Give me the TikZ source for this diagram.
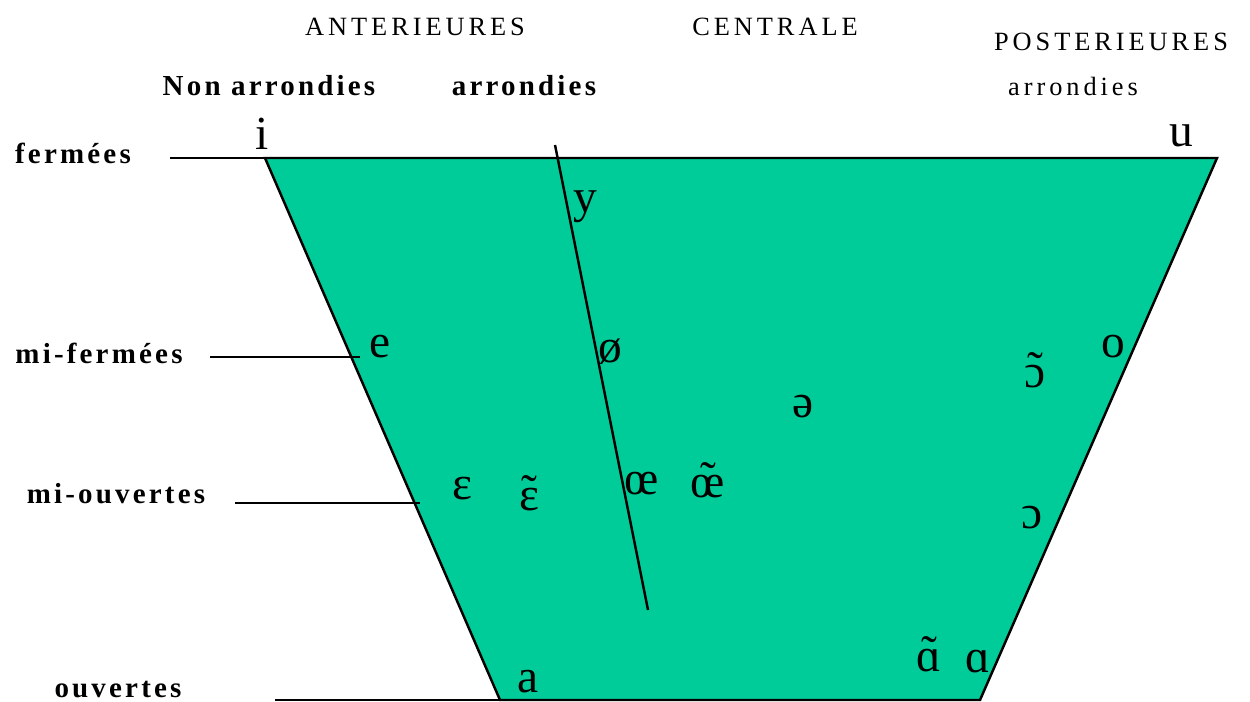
\documentclass[tikz,border=0pt]{standalone}
\usepackage{fontspec}
\setmainfont{Liberation Serif}
\definecolor{vowelfill}{HTML}{00CC99}
% nasal vowel: spacing tilde set over the letter
\newcommand{\nas}[1]{\ooalign{#1\cr\hidewidth\raisebox{0.06em}{\char"02DC}\hidewidth\cr}}

\begin{document}
\begin{tikzpicture}[
    x=0.02cm, y=-0.02cm,
    vowel/.style={font=\fontsize{27}{27}\selectfont, inner sep=0pt},
    head/.style={font=\fontsize{15}{15}\selectfont\addfontfeature{LetterSpace=15}, inner sep=0pt},
    rowlab/.style={font=\bfseries\fontsize{16.5}{16.5}\selectfont\addfontfeature{LetterSpace=11}, inner sep=0pt},
    edge/.style={line width=1.4pt}
]
\useasboundingbox (0,0) rectangle (1250,702);

% corners of the chart
\coordinate (tl) at (265,158);
\coordinate (tr) at (1217,158);
\coordinate (br) at (980,700);
\coordinate (bl) at (500,700);
\filldraw[fill=vowelfill, edge] (tl) -- (tr) -- (br) -- (bl) -- cycle;

% rounding line
\coordinate (rtop) at (555,145);
\coordinate (rbot) at (648,610);
\draw[edge] (rtop) -- (rbot);

% column headings
\node[head] (ant) at (415,27) {ANTERIEURES};
\node[head] (cen) at (775,27) {CENTRALE};
\node[head] (post) at (1111,42) {POSTERIEURES};
\node[rowlab] (nonarr) at (269,86) {Non arrondies};
\node[rowlab] (arr) at (524,86) {arrondies};
\node[head] (parr) at (1073,86) {arrondies};

% row labels and their lines
\node[rowlab] (ferm) at (73,153) {fermées};
\node[rowlab] (miferm) at (99,353) {mi-fermées};
\node[rowlab] (miouv) at (116,494) {mi-ouvertes};
\node[rowlab] (ouv) at (118,690) {ouvertes};
\coordinate (fermL) at (170,158);
\coordinate (mifermL) at (210,357);
\coordinate (mifermR) at (360,357);
\coordinate (miouvL) at (235,503);
\coordinate (miouvR) at (420,503);
\coordinate (ouvL) at (275,700);
\draw[edge] (fermL) -- (tl);
\draw[edge] (mifermL) -- (mifermR);
\draw[edge] (miouvL) -- (miouvR);
\draw[edge] (ouvL) -- (bl);

% vowels
\node[vowel] (i) at (262,134) {i};
\node[vowel] (u) at (1181,136) {u};
\node[vowel] (y) at (585,207) {y};
\node[vowel] (e) at (380,347) {e};
\node[vowel] (oe) at (610,352) {ø};
\node[vowel] (o) at (1113,347) {o};
\node[vowel] (on) at (1035,376) {\nas{ɔ}};
\node[vowel] (schwa) at (803,407) {ə};
\node[vowel] (eps) at (462,489) {ɛ};
\node[vowel] (epsn) at (529,499) {\nas{ɛ}};
\node[vowel] (oel) at (642,484) {œ};
\node[vowel] (oen) at (708,486) {\nas{œ}};
\node[vowel] (oo) at (1032,518) {ɔ};
\node[vowel] (an) at (929,660) {\nas{ɑ}};
\node[vowel] (aa) at (978,662) {ɑ};
\node[vowel] (a) at (528,682) {a};
\end{tikzpicture}
\end{document}
